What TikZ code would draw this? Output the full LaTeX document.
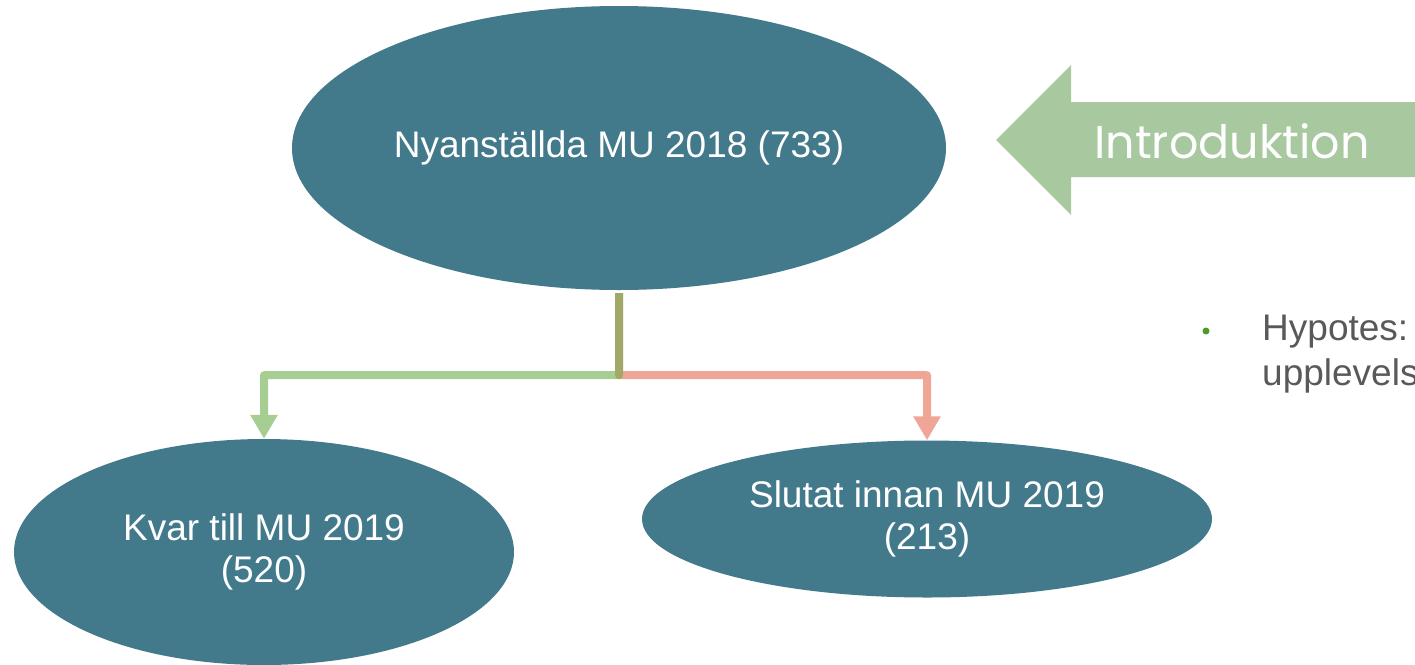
\documentclass[tikz,border=0pt]{standalone}
\usepackage{fontspec}
\setmainfont{Liberation Sans}
\newfontfamily\introfont{Poppins}
\usetikzlibrary{shapes.geometric,arrows.meta,calc}
\definecolor{ellcol}{HTML}{427A8C}
\definecolor{introcol}{HTML}{A8C8A0}
\definecolor{grn}{HTML}{6CAD4A}
\definecolor{rdd}{HTML}{E56A50}
\definecolor{txtgray}{HTML}{595959}
\definecolor{bulletcol}{HTML}{4E9A2A}
\begin{document}
\begin{tikzpicture}[x=1pt,y=-1pt,
  ell/.style={ellipse,fill=ellcol,draw=none,inner sep=0pt,text=white,align=center,
    font=\fontsize{37}{42}\selectfont},
  conn/.style={line width=8pt,line join=round,
    -{Triangle[width=26pt,length=24pt]}},
  txt/.style={inner sep=0pt,anchor=base west,text=txtgray,font=\fontsize{37}{42}\selectfont}]
\useasboundingbox (0,0) rectangle (1415,664);
\clip (0,0) rectangle (1415,664);
\node[ell,minimum width=654pt,minimum height=284pt] (top) at (619,148) {Nyanställda MU 2018 (733)};
\node[ell,minimum width=500pt,minimum height=226pt] (kvar) at (264,552) {Kvar till MU 2019\\(520)};
\node[ell,minimum width=570pt,minimum height=157pt] (slut) at (927,519) {Slutat innan MU 2019\\(213)};
\coordinate (s) at ($(top.south)+(0,3)$);
\coordinate (j) at ($(top.south)+(0,85)$);
\begin{scope}[transparency group,opacity=0.6]
\draw[conn,draw=rdd] (s) -- (j) -| (slut.north);
\end{scope}
\begin{scope}[transparency group,opacity=0.6]
\draw[conn,draw=grn] (s) -- (j) -| (kvar.north);
\end{scope}
\fill[introcol] (996,140) -- (1071,65) -- (1071,102) -- (1420,102) -- (1420,177)
  -- (1071,177) -- (1071,215) -- cycle;
\node[inner sep=0pt,anchor=base,text=white,font=\introfont\fontsize{46}{50}\selectfont] (intro) at (1232,158) {Introduktion};
\fill[bulletcol] (1206,331) circle (3.5pt);
\node[txt] (hyp1) at (1262,340) {Hypotes:};
\node[txt] (hyp2) at (1262,385) {upplevels};
\end{tikzpicture}
\end{document}
